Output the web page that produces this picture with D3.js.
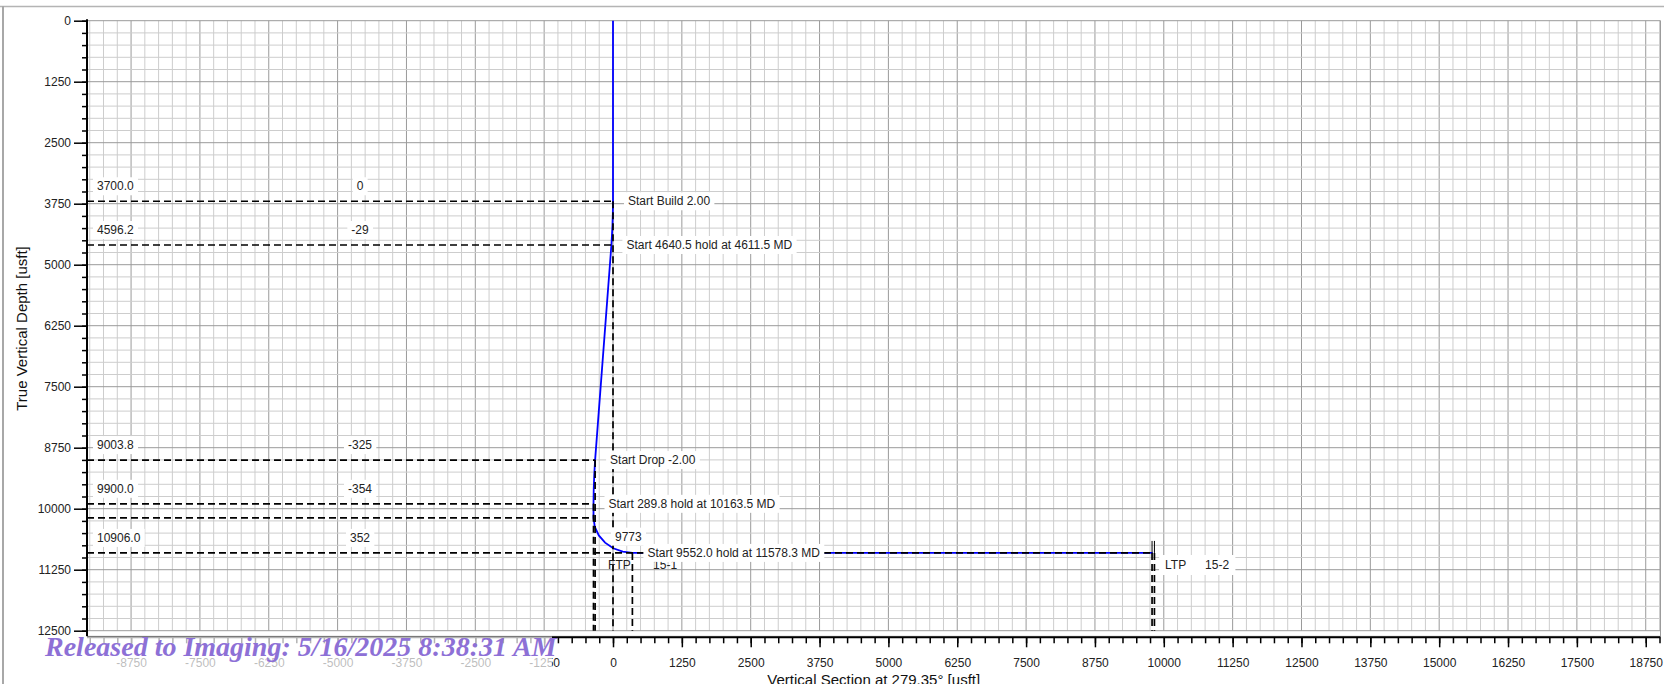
<!DOCTYPE html>
<html><head><meta charset="utf-8">
<script src="https://cdn.jsdelivr.net/npm/d3@7"></script>
<style>html,body{margin:0;padding:0;background:#fff;overflow:hidden}</style>
</head><body><svg id="c" width="1664" height="684"></svg>
<script>
// ---------- data ----------
const xTicks = [-8750,-7500,-6250,-5000,-3750,-2500,-1250,0,1250,2500,3750,5000,6250,7500,8750,10000,11250,12500,13750,15000,16250,17500,18750];
const yTicks = [0,1250,2500,3750,5000,6250,7500,8750,10000,11250,12500];

// well path (vertical section, TVD)
const wellVS  = [0, 0, -3, -10, -20, -29, -325, -340, -350, -354, -354, -330, -258, -144, 4, 177, 352, 9800];
const wellTVD = [0, 3700, 3950, 4200, 4420, 4596.2, 9003.8, 9300, 9600, 9900, 10189.8, 10375, 10548, 10696, 10810, 10881, 10906, 10906];

// section markers
const markerTVD   = [3700.0, 4596.2, 9003.8, 9900.0, 10189.8, 10906.0];
const markerVS    = [0, -29, -325, -354, -354, 352];
const markerLineEndVS = [0, -29, -325, -354, -354, 9787];
const markerTVDText = ["3700.0", "4596.2", "9003.8", "9900.0", "", "10906.0"];
const markerVSText  = ["0", "-29", "-325", "-354", "", "352"];
const markerNote    = ["Start Build 2.00", "Start 4640.5 hold at 4611.5 MD", "Start Drop -2.00", "Start 289.8 hold at 10163.5 MD", "", "Start 9552.0 hold at 11578.3 MD"];

// vertical drop lines
const dropVS  = [0, -325, -354, 352, 9787, 9830];
const dropTVD = [3700, 9003.8, 9900, 10906, 10906, 10906];

// free annotation
const extraText = ["9773"];
const extraVS = [0];
const extraTVD = [10573];

// targets
const targetName  = ["FTP", "LTP"];
const targetLabel = ["15-1", "15-2"];
const targetVS    = [-325, 9787];
const targetTVD   = [11154, 11154];

const xTitle = "Vertical Section at 279.35° [usft]";
const yTitle = "True Vertical Depth [usft]";
const watermark = "Released to Imaging: 5/16/2025 8:38:31 AM";

// ---------- drawing ----------
const svg = d3.select("#c");
const FONT = "'Liberation Sans', Arial, sans-serif";
const x = d3.scaleLinear().domain([-9550, 19000]).range([87, 1659.5]);
const y = d3.scaleLinear().domain([0, 12500]).range([20.7, 630.7]);
const plotL = x.range()[0], plotR = 1660.5, plotT = y(0), plotB = 636.3;

// frame
svg.append("line").attr("x1",0).attr("x2",1664).attr("y1",6.5).attr("y2",6.5).attr("stroke","#b4b4b4").attr("stroke-width",1.5);
svg.append("line").attr("x1",3).attr("x2",3).attr("y1",6).attr("y2",684).attr("stroke","#a8a8a8").attr("stroke-width",2);

// grid
const grid = svg.append("g");
const vMinor = d3.range(-9500, 19001, 250);
const hMinor = d3.range(0, 12501, 250);
grid.selectAll("line.v").data(vMinor).join("line")
  .attr("x1", d=>x(d)).attr("x2", d=>x(d)).attr("y1", plotT).attr("y2", y(12500))
  .attr("stroke", d => d % 1250 === 0 ? "#9a9a9a" : "#cdcdcd").attr("stroke-width", 1);
grid.selectAll("line.h").data(hMinor).join("line")
  .attr("x1", plotL).attr("x2", plotR).attr("y1", d=>y(d)).attr("y2", d=>y(d))
  .attr("stroke", d => d % 1250 === 0 ? "#9a9a9a" : "#cdcdcd").attr("stroke-width", 1);
grid.append("line").attr("x1",plotR).attr("x2",plotR).attr("y1",plotT).attr("y2",plotB).attr("stroke","#9c9c9c");
grid.append("line").attr("x1",plotL).attr("x2",plotR).attr("y1",plotB).attr("y2",plotB).attr("stroke","#b0b0b0");

// well path
const pts = wellVS.map((v,i)=>[v, wellTVD[i]]);
svg.append("path").datum(pts)
  .attr("d", d3.line().x(d=>x(d[0])).y(d=>y(d[1])))
  .attr("fill","none").attr("stroke","#0000ff").attr("stroke-width",1.8);

// dashed lines
const dash = svg.append("g").attr("stroke","#000").attr("stroke-width",1.7).attr("stroke-dasharray","7,4").attr("fill","none");
markerTVD.forEach((t,i)=>{
  dash.append("line").attr("x1",plotL).attr("x2",x(markerLineEndVS[i])).attr("y1",y(t)).attr("y2",y(t));
});
dropVS.forEach((v,i)=>{
  dash.append("line").attr("x1",x(v)).attr("x2",x(v)).attr("y1",y(dropTVD[i])).attr("y2",y(12500));
});
// LTP marker ticks above lateral
[9787, 9830].forEach(v=>{
  svg.append("line").attr("x1",x(v)).attr("x2",x(v)).attr("y1",y(10906)-12).attr("y2",y(10906)).attr("stroke","#000").attr("stroke-width",1);
});

// FTP label (no background)
svg.append("text").attr("x", x(targetVS[0])+13).attr("y", y(targetTVD[0])).attr("dominant-baseline","central")
  .attr("font-family",FONT).attr("font-size",12).attr("fill","#222").text(targetName[0]);
svg.append("text").attr("x", x(targetVS[0])+58).attr("y", y(targetTVD[0])).attr("dominant-baseline","central")
  .attr("font-family",FONT).attr("font-size",12).attr("fill","#222").text(targetLabel[0]);

// labels with white background
const labels = svg.append("g");
function boxed(xp, yp, txt, anchor){
  if(!txt) return;
  const g = labels.append("g");
  const r = g.append("rect").attr("fill","#fff");
  const t = g.append("text").attr("x",xp).attr("y",yp).attr("dominant-baseline","central")
    .attr("text-anchor",anchor||"start").attr("font-family",FONT).attr("font-size",12).attr("fill","#222").text(txt);
  const b = t.node().getBBox();
  r.attr("x",b.x-4).attr("y",b.y-2).attr("width",b.width+8).attr("height",b.height+4);
}
markerTVD.forEach((t,i)=>{
  boxed(97, y(t)-15, markerTVDText[i], "start");
  boxed(360, y(t)-15, markerVSText[i], "middle");
  boxed(x(markerVS[i])+15, y(t), markerNote[i], "start");
});
extraText.forEach((s,i)=> boxed(x(extraVS[i])+2, y(extraTVD[i]), s, "start"));
// LTP label
(function(){
  const g = labels.append("g");
  const r = g.append("rect").attr("fill","#fff");
  const t1 = g.append("text").attr("x",x(targetVS[1])+13).attr("y",y(targetTVD[1])).attr("dominant-baseline","central")
    .attr("font-family",FONT).attr("font-size",12).attr("fill","#222").text(targetName[1]);
  const t2 = g.append("text").attr("x",x(targetVS[1])+53).attr("y",y(targetTVD[1])).attr("dominant-baseline","central")
    .attr("font-family",FONT).attr("font-size",12).attr("fill","#222").text(targetLabel[1]);
  const b1 = t1.node().getBBox(), b2 = t2.node().getBBox();
  r.attr("x",b1.x-6).attr("y",b1.y-3).attr("width",b2.x+b2.width-b1.x+12).attr("height",b1.height+6);
})();

// axes
const yAxisG = svg.append("g").attr("transform",`translate(${plotL},0)`);
yAxisG.call(d3.axisLeft(y).tickValues(hMinor).tickSize(5).tickFormat("").tickSizeOuter(0));
yAxisG.call(g=>g.select(".domain").remove());
const yAxisM = svg.append("g").attr("transform",`translate(${plotL},0)`);
yAxisM.call(d3.axisLeft(y).tickValues(yTicks).tickSize(13).tickPadding(3).tickFormat(d=>String(d)).tickSizeOuter(0));
yAxisM.select(".domain").remove();
svg.append("line").attr("x1",plotL).attr("x2",plotL).attr("y1",plotT-1.5).attr("y2",plotB).attr("stroke","#000").attr("stroke-width",2);

const axY = 637.3;
const xAxisMinor = svg.append("g").attr("transform",`translate(0,${axY})`);
xAxisMinor.call(d3.axisBottom(x).tickValues(vMinor).tickSize(6).tickFormat("").tickSizeOuter(0));
xAxisMinor.select(".domain").remove();
const xAxisM = svg.append("g").attr("transform",`translate(0,${axY})`);
xAxisM.call(d3.axisBottom(x).tickValues(xTicks).tickSize(10).tickPadding(11).tickFormat(d=>String(d)).tickSizeOuter(0));
xAxisM.select(".domain").remove();
svg.append("line").attr("x1",plotL).attr("x2",plotR).attr("y1",axY).attr("y2",axY).attr("stroke","#000").attr("stroke-width",2);

svg.selectAll(".tick line").attr("stroke","#000").attr("stroke-width",1.5);
svg.selectAll(".tick text").attr("font-family",FONT).attr("font-size",12).attr("fill","#222");

// titles
svg.append("text").attr("x",(plotL+plotR)/2).attr("y",685).attr("text-anchor","middle")
  .attr("font-family",FONT).attr("font-size",15).attr("fill","#111").text(xTitle);
svg.append("text").attr("transform",`translate(27,${(plotT+plotB)/2}) rotate(-90)`).attr("text-anchor","middle")
  .attr("font-family",FONT).attr("font-size",15).attr("fill","#111").text(yTitle);

// watermark
svg.append("rect").attr("x",40).attr("y",636.5).attr("width",512).attr("height",32).attr("fill","#fff").attr("opacity",0.7);
svg.append("text").attr("x",45).attr("y",656).attr("font-family","'Liberation Serif','Times New Roman',serif")
  .attr("font-weight","bold").attr("font-style","italic").attr("font-size",28).attr("fill","#8d70d6").text(watermark);
</script>
</body></html>
